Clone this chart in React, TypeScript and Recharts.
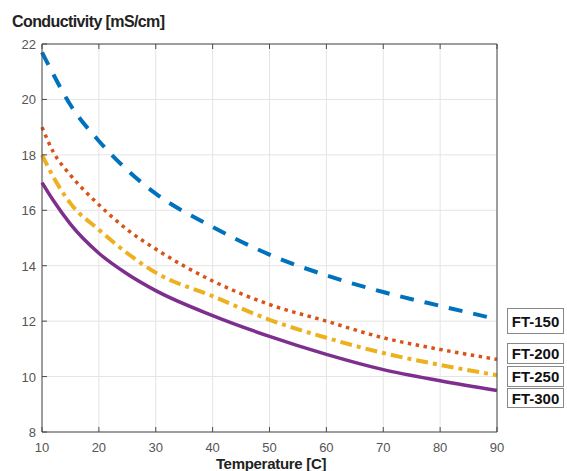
import React from 'react'
import { LineChart, Line, XAxis, YAxis, CartesianGrid } from 'recharts'

const temps = [10, 12, 15, 20, 25, 30, 40, 50, 60, 70, 80, 90]
const ft150 = [21.7, 20.9, 19.8, 18.5, 17.45, 16.6, 15.4, 14.4, 13.65, 13.05, 12.55, 12.07]
const ft200 = [19.0, 18.1, 17.27, 16.2, 15.3, 14.6, 13.45, 12.6, 12.0, 11.4, 10.98, 10.62]
const ft250 = [18.0, 17.2, 16.25, 15.3, 14.45, 13.75, 12.9, 12.05, 11.4, 10.85, 10.42, 10.05]
const ft300 = [17.0, 16.35, 15.5, 14.45, 13.7, 13.1, 12.2, 11.45, 10.8, 10.25, 9.85, 9.5]

const xTicks = [10, 20, 30, 40, 50, 60, 70, 80, 90]
const yTicks = [8, 10, 12, 14, 16, 18, 20, 22]
const seriesNames = ['FT-150', 'FT-200', 'FT-250', 'FT-300']

const data = temps.map((t, i) => ({
  t,
  ft150: ft150[i],
  ft200: ft200[i],
  ft250: ft250[i],
  ft300: ft300[i],
}))

const font = '"Liberation Sans", Arial, sans-serif'
const axisColor = '#4a4a4a'
const labelColor = '#555'

const BottomTick = (props: any) => {
  const { x, y, payload } = props
  return (
    <g>
      <line x1={x} x2={x} y1={y} y2={y - 5} stroke={axisColor} />
      <text x={x} y={y + 20} textAnchor="middle" fontSize={13} fill={labelColor} fontFamily={font}>
        {payload.value}
      </text>
    </g>
  )
}

const LeftTick = (props: any) => {
  const { x, y, payload } = props
  return (
    <g>
      <line x1={x} x2={x + 5} y1={y} y2={y} stroke={axisColor} />
      <text x={x - 6} y={y + 5} textAnchor="end" fontSize={13} fill={labelColor} fontFamily={font}>
        {payload.value}
      </text>
    </g>
  )
}

const TopTick = (props: any) => {
  const { x, y } = props
  return <line x1={x} x2={x} y1={y} y2={y + 5} stroke={axisColor} />
}

const RightTick = (props: any) => {
  const { x, y } = props
  return <line x1={x} x2={x - 5} y1={y} y2={y} stroke={axisColor} />
}

const labelTops = [308, 343, 366, 388]
const labelHeights = [26, 21, 21, 20]

export default function App() {
  return (
    <div style={{ position: 'absolute', left: 0, top: 0, width: 567, height: 471, background: '#fff', overflow: 'hidden', fontFamily: font }}>
      <div style={{ position: 'absolute', left: 12, top: 13, fontSize: 16, fontWeight: 'bold', color: '#222', letterSpacing: -0.6 }}>
        Conductivity [mS/cm]
      </div>
      <LineChart width={567} height={471} data={data} margin={{ top: 43, right: 69, left: 41, bottom: 38 }}>
        <CartesianGrid stroke="#e4e4e4" />
        <XAxis
          dataKey="t"
          type="number"
          domain={[10, 90]}
          ticks={xTicks}
          interval={0}
          height={1}
          tickSize={0}
          tickMargin={0}
          tickLine={false}
          stroke={axisColor}
          tick={BottomTick}
        />
        <XAxis
          xAxisId="top"
          orientation="top"
          dataKey="t"
          type="number"
          domain={[10, 90]}
          ticks={xTicks}
          interval={0}
          height={1}
          tickSize={0}
          tickMargin={0}
          tickLine={false}
          stroke={axisColor}
          tick={TopTick}
        />
        <YAxis
          type="number"
          domain={[8, 22]}
          ticks={yTicks}
          interval={0}
          width={1}
          tickSize={0}
          tickMargin={0}
          tickLine={false}
          stroke={axisColor}
          tick={LeftTick}
        />
        <YAxis
          yAxisId="right"
          orientation="right"
          type="number"
          domain={[8, 22]}
          ticks={yTicks}
          interval={0}
          width={1}
          tickSize={0}
          tickMargin={0}
          tickLine={false}
          stroke={axisColor}
          tick={RightTick}
        />
        <Line type="monotone" dataKey="ft150" name={seriesNames[0]} stroke="#0072BD" strokeWidth={4} strokeDasharray="14 11" dot={false} isAnimationActive={false} />
        <Line type="monotone" dataKey="ft200" name={seriesNames[1]} stroke="#D95319" strokeWidth={3.5} strokeDasharray="3.5 4.5" dot={false} isAnimationActive={false} />
        <Line type="monotone" dataKey="ft250" name={seriesNames[2]} stroke="#EDB120" strokeWidth={4} strokeDasharray="12 5 4 5" dot={false} isAnimationActive={false} />
        <Line type="monotone" dataKey="ft300" name={seriesNames[3]} stroke="#7E2F8E" strokeWidth={3.5} dot={false} isAnimationActive={false} />
      </LineChart>
      {seriesNames.map((name, i) => (
        <div
          key={name}
          style={{
            position: 'absolute',
            left: 507,
            top: labelTops[i],
            width: 57,
            height: labelHeights[i],
            border: '1px solid #888',
            boxSizing: 'border-box',
            background: '#fff',
            fontSize: 15,
            fontWeight: 'bold',
            color: '#111',
            display: 'flex',
            alignItems: 'center',
            justifyContent: 'center',
          }}
        >
          {name}
        </div>
      ))}
      <div style={{ position: 'absolute', left: 0, width: 542, top: 455, textAlign: 'center', fontSize: 15, fontWeight: 'bold', color: '#222', letterSpacing: -0.3 }}>
        Temperature [C]
      </div>
    </div>
  )
}
